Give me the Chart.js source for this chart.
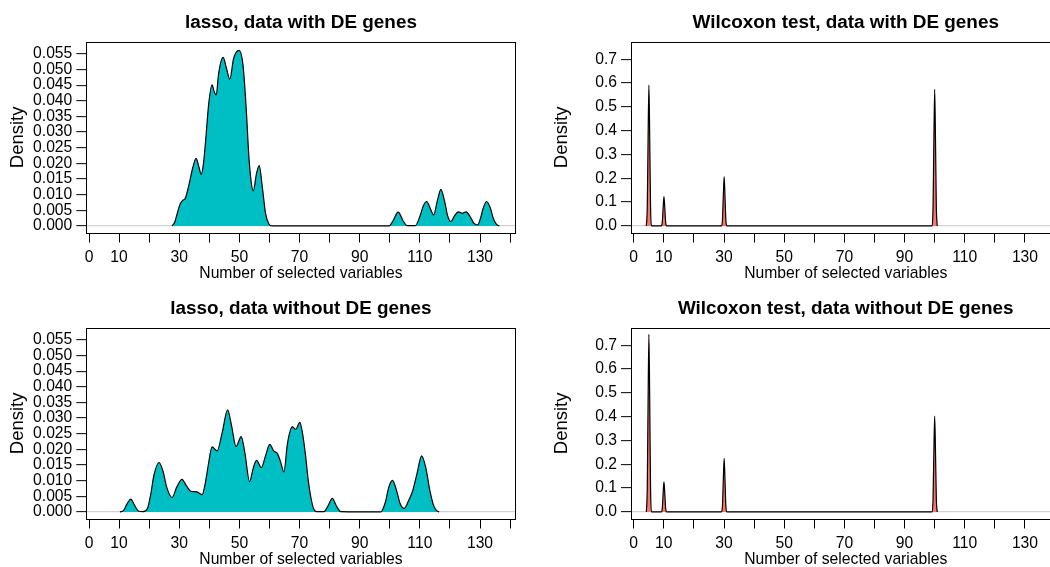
<!DOCTYPE html>
<html>
<head>
<meta charset="utf-8">
<script src="https://cdn.jsdelivr.net/npm/chart.js@4.4.1/dist/chart.umd.min.js"></script>
<style>
  html, body { margin: 0; padding: 0; background: #fff; overflow: hidden; }
  #wrap { position: relative; width: 1050px; height: 567px; overflow: hidden; }
  canvas { position: absolute; }
</style>
</head>
<body>
<div id="wrap">
  <canvas id="c1" width="525" height="283" style="left:0;top:0"></canvas>
  <canvas id="c2" width="545" height="283" style="left:525px;top:0"></canvas>
  <canvas id="c3" width="525" height="283" style="left:0;top:286px"></canvas>
  <canvas id="c4" width="545" height="283" style="left:525px;top:286px"></canvas>
</div>
<script>
// valeurs

const xTicks = [0, 10, 20, 30, 40, 50, 60, 70, 80, 90, 100, 110, 120, 130, 140];
const xTickShown = [0, 10, 30, 50, 70, 90, 110, 130];
const lassoTicks = [0, 0.005, 0.01, 0.015, 0.02, 0.025, 0.03, 0.035, 0.04, 0.045, 0.05, 0.055];
const wilcoxTicks = [0, 0.1, 0.2, 0.3, 0.4, 0.5, 0.6, 0.7];

// lasso, data with DE genes
const lassoDeX = [27.6, 28.5, 29.2, 30.3, 31.2, 32.0, 33.1, 34.6, 35.6, 36.5, 37.3, 38.0, 38.7, 39.8, 40.9,
  41.6, 42.3, 43.1, 44.6, 45.7, 46.8, 48.1, 49.9, 51.2, 52.3, 53.1, 53.9, 54.6, 55.7, 56.6, 57.6, 58.7,
  59.8, 60.8, 99.8, 101.0, 102.8, 104.5, 105.7, 108.5, 110.0, 111.2, 112.3, 113.5, 114.6, 115.8, 117.0,
  118.2, 119.3, 120.3, 121.5, 122.8, 124.1, 125.4, 126.7, 128.0, 129.2, 130.2, 131.0, 132.2, 133.4,
  134.5, 135.5, 136.4];
const lassoDeY = [0, 0.0012, 0.0035, 0.0070, 0.0082, 0.0088, 0.0126, 0.0190, 0.0216, 0.0190, 0.0165,
  0.0195, 0.0264, 0.0390, 0.0451, 0.0430, 0.0419, 0.0488, 0.0539, 0.0504, 0.0469, 0.0536, 0.0561,
  0.0515, 0.0370, 0.0230, 0.0142, 0.0112, 0.0168, 0.0193, 0.0126, 0.0040, 0.0006, 0, 0, 0.0015,
  0.0044, 0.0015, 0.0001, 0.0001, 0.0030, 0.0065, 0.0078, 0.0055, 0.0035, 0.0080, 0.0117, 0.0080,
  0.0030, 0.0014, 0.0032, 0.0045, 0.0040, 0.0045, 0.0030, 0.0008, 0.0003, 0.0025, 0.0055, 0.0078,
  0.0058, 0.0022, 0.0005, 0];

// lasso, data without DE genes
const lassoNoX = [10.3, 11.5, 12.6, 13.9, 15.1, 16.4, 18.0, 19.4, 20.5, 21.6, 23.3, 24.6, 25.8, 27.6,
  29.2, 30.9, 32.3, 33.7, 35.9, 37.6, 38.7, 39.8, 40.9, 42.6, 44.2, 46.1, 47.4, 48.9, 50.6, 51.8, 53.4,
  54.6, 55.7, 57.3, 58.7, 60.1, 61.4, 62.6, 63.7, 64.8, 66.0, 67.6, 68.7, 70.1, 71.0, 72.0, 72.9, 73.7,
  74.6, 75.6, 78.1, 79.5, 80.9, 82.3, 83.7, 97.0, 98.5, 99.7, 100.9, 102.2, 103.5, 104.8, 106.2, 107.6,
  109.0, 110.6, 112.0, 113.3, 114.6, 115.6, 116.4];
const lassoNoY = [0, 0.0005, 0.0025, 0.0041, 0.0022, 0.0003, 0.0001, 0.0010, 0.0055, 0.0118, 0.0158,
  0.0130, 0.0080, 0.0046, 0.0080, 0.0104, 0.0085, 0.0067, 0.0064, 0.0055, 0.0094, 0.0158, 0.0208,
  0.0195, 0.0250, 0.0326, 0.0275, 0.0209, 0.0241, 0.0190, 0.0097, 0.0140, 0.0165, 0.0142, 0.0180,
  0.0216, 0.0195, 0.0187, 0.0160, 0.0128, 0.0220, 0.0272, 0.0264, 0.0286, 0.0250, 0.0180, 0.0100,
  0.0050, 0.0012, 0.0001, 0.0001, 0.0020, 0.0043, 0.0018, 0.0001, 0, 0.0030, 0.0080, 0.0101, 0.0070,
  0.0025, 0.0011, 0.0035, 0.0067, 0.0120, 0.0179, 0.0140, 0.0070, 0.0020, 0.0004, 0];

// Wilcoxon : pics à 5, 10, 30 et 100 variables
const wilcoxX = [4.2, 4.5, 4.77, 5.05, 5.33, 5.6, 5.9,
  9.2, 9.5, 9.77, 10.05, 10.33, 10.6, 10.9,
  29.2, 29.5, 29.77, 30.05, 30.33, 30.6, 30.9,
  99.15, 99.45, 99.72, 100.0, 100.28, 100.55, 100.85];
const wilcoxDeY = [0, 0.080, 0.360, 0.592, 0.360, 0.080, 0,
  0, 0.017, 0.075, 0.123, 0.075, 0.017, 0,
  0, 0.028, 0.126, 0.207, 0.126, 0.028, 0,
  0, 0.078, 0.350, 0.574, 0.350, 0.078, 0];
const wilcoxNoY = [0, 0.100, 0.455, 0.746, 0.455, 0.100, 0,
  0, 0.017, 0.077, 0.126, 0.077, 0.017, 0,
  0, 0.030, 0.137, 0.225, 0.137, 0.030, 0,
  0, 0.054, 0.246, 0.403, 0.246, 0.054, 0];

const FONT = '"Liberation Sans", Arial, Helvetica, sans-serif';
Chart.defaults.font.family = FONT;
Chart.defaults.color = '#000';
Chart.defaults.animation = false;

// cadre + titre centré sur la zone du graphe
const frame = {
  id: 'frame',
  afterDatasetsDraw(chart, args, opts) {
    const { ctx, chartArea: a } = chart;
    ctx.save();
    ctx.strokeStyle = '#000';
    ctx.lineWidth = 1;
    ctx.strokeRect(Math.round(a.left) + 0.5, Math.round(a.top) + 0.5,
      Math.round(a.right - a.left), Math.round(a.bottom - a.top));
    ctx.font = 'bold 18.9px ' + FONT;
    ctx.textAlign = 'center';
    ctx.textBaseline = 'alphabetic';
    ctx.fillStyle = '#000';
    ctx.fillText(opts.text, (a.left + a.right) / 2, opts.baseline);
    ctx.restore();
  }
};

function panel(id, title, xs, ys, fillColor, yMin, yMax, yTicks, digits, yWidth, yTitlePad) {
  return new Chart(document.getElementById(id), {
    type: 'line',
    data: {
      datasets: [{
        data: xs.map((x, i) => ({ x, y: ys[i] })),
        borderColor: '#000',
        borderWidth: 1.2,
        backgroundColor: fillColor,
        fill: 'origin',
        pointRadius: 0,
        cubicInterpolationMode: 'monotone',
      }],
    },
    options: {
      responsive: false,
      layout: { padding: { top: 41.7, right: 9.5, bottom: 0, left: 0 } },
      plugins: {
        legend: { display: false },
        tooltip: { enabled: false },
        frame: { text: title, baseline: 28.3 },
      },
      scales: {
        x: {
          type: 'linear', min: -0.9, max: 141.8,
          afterBuildTicks: s => { s.ticks = xTicks.map(v => ({ value: v })); },
          afterFit: s => { s.height = 50; },
          ticks: {
            autoSkip: false, maxRotation: 0, minRotation: 0, padding: 6,
            font: { size: 15.7 }, color: '#000',
            callback: v => xTickShown.includes(v) ? String(v) : '',
          },
          grid: { drawOnChartArea: false, tickLength: 9.5, color: '#000' },
          border: { display: false },
          title: { display: true, text: 'Number of selected variables', font: { size: 15.7 }, padding: { top: 0, bottom: 0 } },
        },
        y: {
          min: yMin, max: yMax,
          afterBuildTicks: s => { s.ticks = yTicks.map(v => ({ value: v })); },
          afterFit: s => { s.width = yWidth; },
          ticks: {
            autoSkip: false, padding: 4, font: { size: 15.7 }, color: '#000',
            callback: v => v.toFixed(digits),
          },
          grid: {
            drawOnChartArea: true, tickLength: 10,
            color: c => (c.tick && c.tick.value === 0) ? '#d2d2d2' : 'rgba(0,0,0,0)',
            lineWidth: 1.3,
            tickColor: '#000', tickWidth: 1,
          },
          border: { display: false },
          title: { display: true, text: 'Density', font: { size: 18.5 }, padding: { top: yTitlePad, bottom: 0 } },
        },
      },
    },
    plugins: [frame],
  });
}

const cyan = '#00BFC4';
const salmon = '#F8766D';

panel('c1', 'lasso, data with DE genes', lassoDeX, lassoDeY, cyan, -0.00227, 0.0589, lassoTicks, 3, 86.3, 6.5);
panel('c2', 'Wilcoxon test, data with DE genes', wilcoxX, wilcoxDeY, salmon, -0.0297, 0.774, wilcoxTicks, 1, 106, 25.5);
panel('c3', 'lasso, data without DE genes', lassoNoX, lassoNoY, cyan, -0.00227, 0.0589, lassoTicks, 3, 86.3, 6.5);
panel('c4', 'Wilcoxon test, data without DE genes', wilcoxX, wilcoxNoY, salmon, -0.0297, 0.774, wilcoxTicks, 1, 106, 25.5);
</script>
</body>
</html>
